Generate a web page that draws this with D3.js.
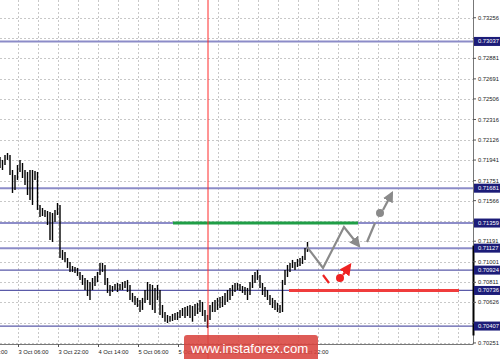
<!DOCTYPE html>
<html>
<head>
<meta charset="utf-8">
<script src="https://cdn.jsdelivr.net/npm/d3@7"></script>
<style>
  body { margin: 0; background: #fff; }
  svg { display: block; font-family: "Liberation Sans", Arial, sans-serif; }
</style>
</head>
<body>
<svg id="chart" width="500" height="359"></svg>
<script>
// ************************************
// Data
// ************************************

// hourly bars, high / low, one per bar index
const barHighs = [
  0.71969, 0.71942, 0.71988, 0.72006, 0.71988, 0.71849, 0.71803, 0.71895, 0.71942, 0.71914,
  0.71849, 0.71831, 0.71849, 0.71849, 0.71840, 0.71831, 0.71526, 0.71498, 0.71480, 0.71470,
  0.71461, 0.71452, 0.71480, 0.71544, 0.71526, 0.71110, 0.71092, 0.71036, 0.70999, 0.70962,
  0.70953, 0.70944, 0.70907, 0.70879, 0.70851, 0.70833, 0.70814, 0.70851, 0.70870, 0.70907,
  0.70990, 0.70990, 0.70971, 0.70851, 0.70787, 0.70777, 0.70796, 0.70805, 0.70796, 0.70814,
  0.70824, 0.70833, 0.70787, 0.70713, 0.70685, 0.70667, 0.70648, 0.70667, 0.70740, 0.70814,
  0.70796, 0.70787, 0.70759, 0.70787, 0.70740, 0.70602, 0.70537, 0.70509, 0.70500, 0.70519,
  0.70528, 0.70537, 0.70556, 0.70574, 0.70583, 0.70593, 0.70602, 0.70593, 0.70611, 0.70620,
  0.70648, 0.70630, 0.70556, 0.70509, 0.70602, 0.70630, 0.70648, 0.70667, 0.70676, 0.70685,
  0.70713, 0.70740, 0.70759, 0.70787, 0.70805, 0.70805, 0.70796, 0.70777, 0.70768, 0.70759,
  0.70814, 0.70879, 0.70907, 0.70925, 0.70879, 0.70805, 0.70768, 0.70740, 0.70694, 0.70667,
  0.70648, 0.70620, 0.70602, 0.70833, 0.70925, 0.70971, 0.70990, 0.71018, 0.70999, 0.71027,
  0.71036, 0.71055, 0.71129, 0.71184
];
const barLows = [
  0.71868, 0.71849, 0.71895, 0.71942, 0.71803, 0.71637, 0.71664, 0.71757, 0.71831, 0.71775,
  0.71711, 0.71618, 0.71572, 0.71526, 0.71757, 0.71480, 0.71415, 0.71424, 0.71415, 0.71341,
  0.71202, 0.71184, 0.71369, 0.71433, 0.71036, 0.71018, 0.70999, 0.70944, 0.70907, 0.70907,
  0.70897, 0.70870, 0.70833, 0.70787, 0.70740, 0.70685, 0.70648, 0.70740, 0.70777, 0.70814,
  0.70879, 0.70907, 0.70787, 0.70713, 0.70685, 0.70722, 0.70740, 0.70722, 0.70740, 0.70740,
  0.70759, 0.70722, 0.70648, 0.70630, 0.70602, 0.70583, 0.70537, 0.70556, 0.70620, 0.70648,
  0.70602, 0.70556, 0.70528, 0.70648, 0.70509, 0.70482, 0.70447, 0.70435, 0.70447, 0.70454,
  0.70463, 0.70463, 0.70482, 0.70500, 0.70482, 0.70500, 0.70482, 0.70447, 0.70500, 0.70519,
  0.70537, 0.70500, 0.70447, 0.70389, 0.70463, 0.70537, 0.70537, 0.70556, 0.70574, 0.70583,
  0.70602, 0.70630, 0.70648, 0.70685, 0.70722, 0.70740, 0.70731, 0.70713, 0.70694, 0.70648,
  0.70694, 0.70759, 0.70805, 0.70833, 0.70759, 0.70694, 0.70676, 0.70648, 0.70602, 0.70574,
  0.70556, 0.70537, 0.70528, 0.70537, 0.70787, 0.70860, 0.70907, 0.70944, 0.70925, 0.70953,
  0.70962, 0.70981, 0.71018, 0.71092
];

// right price scale
const priceTicks = [
  0.73256, 0.73066, 0.72881, 0.72691, 0.72506, 0.72316, 0.72126, 0.71941, 0.71751,
  0.71566, 0.71376, 0.71191, 0.71001, 0.70811, 0.70626, 0.70436, 0.70251
];

// support / resistance levels
const levelLines = [0.73037, 0.71681, 0.71359, 0.71127, 0.70924, 0.70736, 0.70407];

// time scale (bar index -> label)
const timeTickBars = [-9, 7, 23, 39, 55, 71, 87, 103, 119];
const timeTickLabels = [
  "2 Oct 14:00", "3 Oct 06:00", "3 Oct 22:00", "4 Oct 14:00", "5 Oct 06:00",
  "5 Oct 22:00", "8 Oct 14:00", "9 Oct 06:00", "9 Oct 22:00"
];

// drawn annotations, [bar, price]
const greenLevel = [[69.2, 0.71359], [143.2, 0.71359]];
const redLevel = [[115.6, 0.70736], [183.6, 0.70736]];
const redVerticalBar = 83.2;
const upScenario = [[122.8, 0.71138], [129.2, 0.70944], [137.6, 0.71322], [143.6, 0.71147]];
const upBreak = [[146.8, 0.71184], [150.0, 0.71359]];
const upBall = [152.0, 0.71452];
const upArrow = [[153.2, 0.71480], [156.8, 0.71637]];
const downDash = [[129.2, 0.70879], [131.6, 0.70805]];
const downBall = [136.0, 0.70851];
const downArrow = [[137.2, 0.70879], [140.0, 0.70971]];
const axisMarker = [0.71150, 0.70320];

// ************************************
// Scales
// ************************************

const svg = d3.select("#chart");
const plotRight = 473;
const plotBottom = 344;

const x = d3.scaleLinear().domain([0, 189.2]).range([0, plotRight]);
const y = d3.scaleLinear().domain([0.7342, 0.7000]).range([0, 370.1]);

const defs = svg.append("defs");
function arrowMarker(id, color, size) {
  defs.append("marker")
    .attr("id", id)
    .attr("viewBox", "0 0 10 10")
    .attr("refX", 8).attr("refY", 5)
    .attr("markerUnits", "userSpaceOnUse")
    .attr("markerWidth", size).attr("markerHeight", size)
    .attr("orient", "auto")
    .append("path")
    .attr("d", "M0,0 L10,5 L0,10 Z")
    .attr("fill", color);
}
arrowMarker("grayHead", "#8a8a8a", 11);
arrowMarker("redHead", "#ee2222", 12);

const g = svg.append("g");

// ************************************
// Grid
// ************************************

g.append("g")
  .selectAll("line")
  .data(priceTicks)
  .enter().append("line")
  .attr("x1", 0).attr("x2", plotRight)
  .attr("y1", d => Math.round(y(d)) + 0.5).attr("y2", d => Math.round(y(d)) + 0.5)
  .attr("stroke", "#c8c8c8")
  .attr("stroke-dasharray", "2,2");

g.append("g")
  .selectAll("line")
  .data(d3.range(-1, 189, 8))
  .enter().append("line")
  .attr("x1", d => Math.round(x(d)) + 0.5).attr("x2", d => Math.round(x(d)) + 0.5)
  .attr("y1", 0).attr("y2", plotBottom)
  .attr("stroke", "#c8c8c8")
  .attr("stroke-dasharray", "2,2");

// ************************************
// Level lines
// ************************************

g.append("g")
  .selectAll("line")
  .data(levelLines)
  .enter().append("line")
  .attr("x1", 0).attr("x2", plotRight)
  .attr("y1", d => y(d)).attr("y2", d => y(d))
  .attr("stroke", (d, i) => i < 4 ? "#8c8cc8" : "#5a5aa8")
  .attr("stroke-width", (d, i) => i < 4 ? 2 : 1.3);

const line = d3.line().x(d => x(d[0])).y(d => y(d[1]));

g.append("path").attr("d", line(greenLevel))
  .attr("stroke", "#1f9e46").attr("stroke-width", 3).attr("fill", "none");
g.append("path").attr("d", line(redLevel))
  .attr("stroke", "#f03c3c").attr("stroke-width", 3).attr("fill", "none");

// ************************************
// Bars
// ************************************

g.append("g")
  .selectAll("line")
  .data(barHighs)
  .enter().append("line")
  .attr("x1", (d, i) => x(i)).attr("x2", (d, i) => x(i))
  .attr("y1", d => y(d)).attr("y2", (d, i) => y(barLows[i]))
  .attr("stroke", "#000")
  .attr("stroke-width", 1.4);

// red vertical line
g.append("line")
  .attr("x1", x(redVerticalBar)).attr("x2", x(redVerticalBar))
  .attr("y1", 0).attr("y2", 359)
  .attr("stroke", "#ff2a2a").attr("stroke-width", 1);

// ************************************
// Scenario arrows
// ************************************

g.append("path").attr("d", line(upScenario))
  .attr("fill", "none").attr("stroke", "#8a8a8a").attr("stroke-width", 2.2)
  .attr("marker-end", "url(#grayHead)");
g.append("path").attr("d", line(upBreak))
  .attr("fill", "none").attr("stroke", "#8a8a8a").attr("stroke-width", 2.2);
g.append("circle").attr("cx", x(upBall[0])).attr("cy", y(upBall[1])).attr("r", 4)
  .attr("fill", "#8a8a8a");
g.append("path").attr("d", line(upArrow))
  .attr("fill", "none").attr("stroke", "#8a8a8a").attr("stroke-width", 2.2)
  .attr("marker-end", "url(#grayHead)");

g.append("path").attr("d", line(downDash))
  .attr("fill", "none").attr("stroke", "#ee2222").attr("stroke-width", 2.2);
g.append("circle").attr("cx", x(downBall[0])).attr("cy", y(downBall[1])).attr("r", 4)
  .attr("fill", "#ee2222");
g.append("path").attr("d", line(downArrow))
  .attr("fill", "none").attr("stroke", "#ee2222").attr("stroke-width", 2.2)
  .attr("marker-end", "url(#redHead)");

// ************************************
// Axes
// ************************************

const axisG = svg.append("g");
axisG.append("line")
  .attr("x1", plotRight + 0.5).attr("x2", plotRight + 0.5)
  .attr("y1", 0).attr("y2", plotBottom)
  .attr("stroke", "#777");
axisG.append("line")
  .attr("x1", 0).attr("x2", plotRight + 0.5)
  .attr("y1", plotBottom + 0.5).attr("y2", plotBottom + 0.5)
  .attr("stroke", "#777");
axisG.append("line")
  .attr("x1", plotRight + 0.5).attr("x2", plotRight + 0.5)
  .attr("y1", y(axisMarker[0])).attr("y2", y(axisMarker[1]))
  .attr("stroke", "#000").attr("stroke-width", 2);

// price ticks (labels hidden behind a level tag are not drawn, like the terminal does)
const pt = axisG.selectAll(".ptick").data(priceTicks).enter().append("g")
  .attr("class", "ptick")
  .attr("transform", d => `translate(${plotRight},${y(d)})`);
pt.append("line").attr("x1", 0).attr("x2", 3).attr("stroke", "#555");
pt.filter(d => !levelLines.some(l => Math.abs(y(l) - y(d)) < 3.5))
  .append("text").attr("x", 5).attr("dy", "0.35em")
  .style("font-size", "5.8px").attr("fill", "#222")
  .text(d => d.toFixed(5));

// highlighted level labels
const lt = axisG.selectAll(".ltag").data(levelLines).enter().append("g")
  .attr("class", "ltag")
  .attr("transform", d => `translate(${plotRight + 1},${y(d)})`);
lt.append("rect").attr("x", 0).attr("y", -4.5).attr("width", 27).attr("height", 9)
  .attr("fill", "#1c1c78");
lt.append("text").attr("x", 4).attr("dy", "0.35em")
  .style("font-size", "5.8px").attr("fill", "#fff")
  .text(d => d.toFixed(5));

// time ticks
const tt = axisG.selectAll(".ttick").data(timeTickBars).enter().append("g")
  .attr("class", "ttick")
  .attr("transform", d => `translate(${Math.round(x(d)) + 0.5},${plotBottom})`);
tt.append("line").attr("y1", 0).attr("y2", 3).attr("stroke", "#555");
tt.append("text").attr("x", 0).attr("y", 10)
  .style("font-size", "5.8px").attr("fill", "#222")
  .text((d, i) => timeTickLabels[i]);

// ************************************
// Watermark
// ************************************

const wm = svg.append("g").attr("transform", "translate(184,335)");
wm.append("rect").attr("width", 134).attr("height", 26).attr("rx", 3)
  .attr("fill", "#d9443f").attr("opacity", 0.88);
wm.append("text").attr("x", 7).attr("y", 18)
  .style("font-size", "13.2px").attr("fill", "#fff")
  .text("www.instaforex.com");
</script>
</body>
</html>
